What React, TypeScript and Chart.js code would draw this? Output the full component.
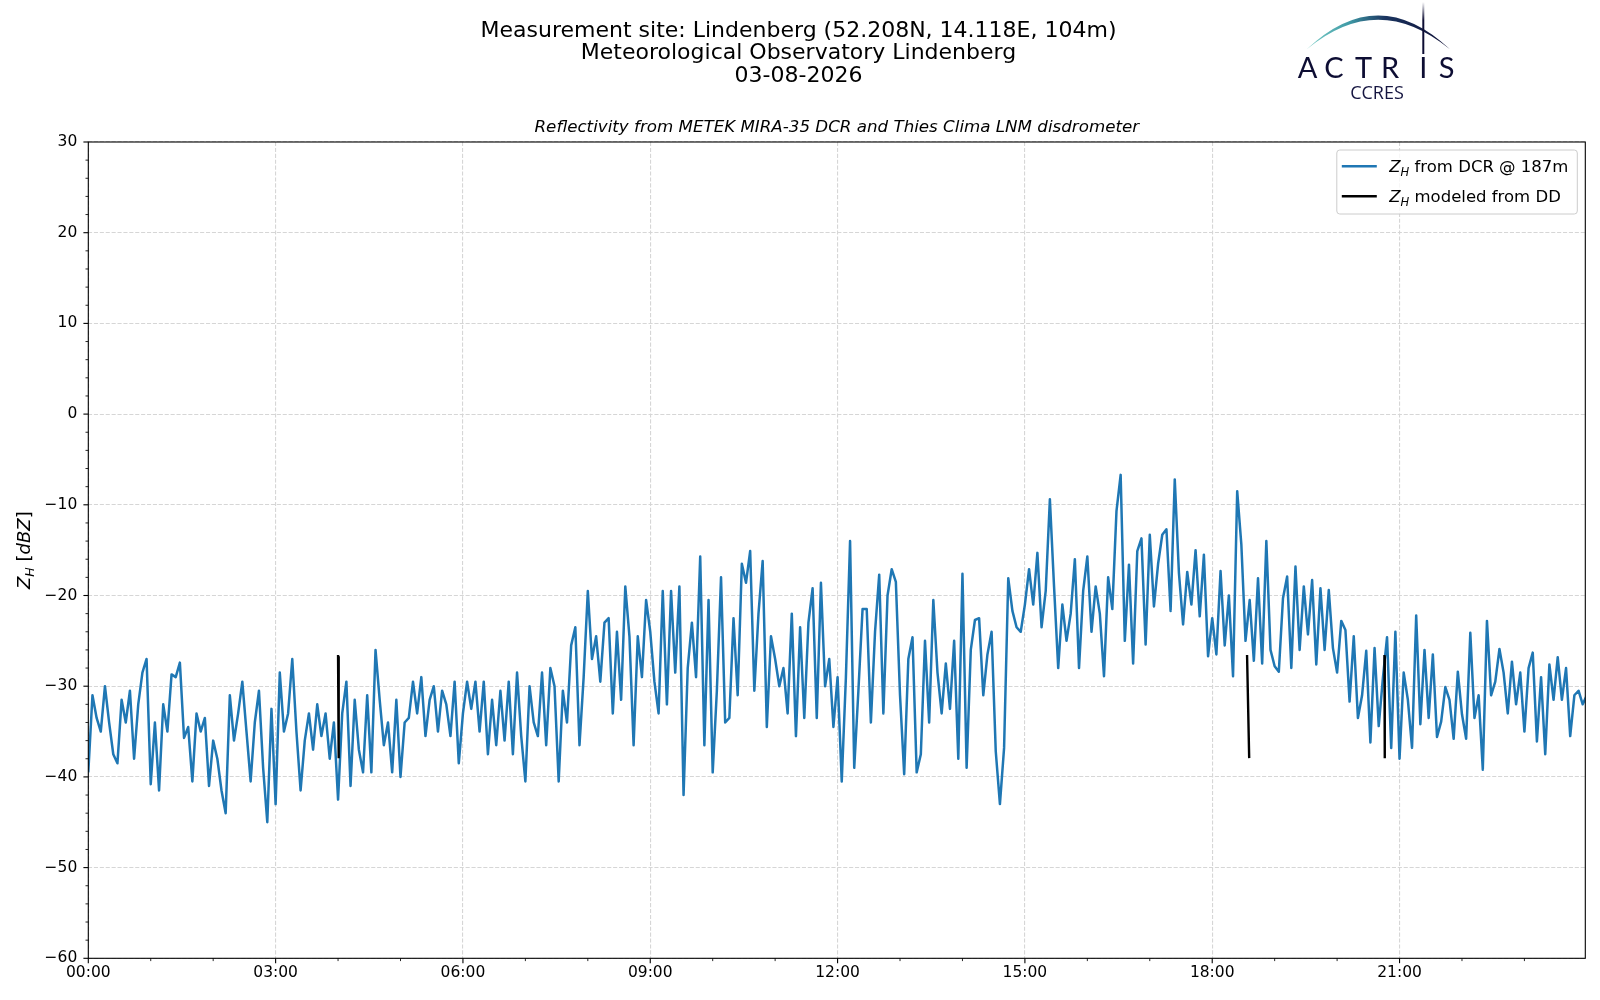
import { useEffect, useRef } from "react";
import Chart from "chart.js/auto";

const TITLE_LINES = [
  "Measurement site: Lindenberg (52.208N, 14.118E, 104m)",
  "Meteorological Observatory Lindenberg",
  "03-08-2026",
];
const SUBTITLE = "Reflectivity from METEK MIRA-35 DCR and Thies Clima LNM disdrometer";

// DCR reflectivity at 187 m, one value every 4 minutes starting 00:00 (one row per hour)
const DCR_STEP_MIN = 4;
const dcrZh = [
  -39.5, -31, -33.5, -35, -30, -34, -37.5, -38.5, -31.5, -34, -30.5, -38, -32, -28.5, -27,
  -40.8, -34, -41.5, -32, -35, -28.7, -29, -27.4, -35.7, -34.5, -40.5, -33, -35, -33.5, -41,
  -36, -38, -41.5, -44, -31, -36, -33, -29.5, -35, -40.5, -34, -30.5, -39, -45, -32.5,
  -43, -28.5, -35, -33, -27, -35, -41.5, -36, -33, -37, -32, -35.5, -33, -38, -34,
  -42.5, -33, -29.5, -41, -31.5, -37, -39.5, -31, -39.5, -26, -31.5, -36.5, -34, -39.5, -31.5,
  -40, -34, -33.5, -29.5, -33, -29, -35.5, -31.5, -30, -35, -30.5, -32, -35.5, -29.5, -38.5,
  -33, -29.5, -32.5, -29.5, -35, -29.5, -37.5, -31.5, -36.5, -30.5, -36, -29.5, -37.5, -28.5, -35.5,
  -40.5, -30, -34, -35.5, -28.5, -36.5, -28, -30, -40.5, -30.5, -34, -25.5, -23.5, -36.5, -29,
  -19.5, -27, -24.5, -29.5, -23, -22.5, -33, -24, -31.5, -19, -24.5, -36.5, -24.5, -29, -20.5,
  -24, -29.5, -33, -19.5, -32, -19.5, -28.5, -19, -42, -28, -23, -29, -15.7, -36.5, -20.5,
  -39.5, -30.5, -18, -34, -33.5, -22.5, -31, -16.5, -18.6, -15.1, -30.5, -22, -16.2, -34.5, -24.5,
  -27, -30, -28, -33, -22, -35.5, -23.5, -33.5, -23, -19.2, -33.5, -18.6, -30, -27, -34.5,
  -29, -40.5, -29, -14, -39, -30.5, -21.5, -21.5, -34, -24, -17.7, -33, -20, -17.1, -18.5,
  -31, -39.7, -27, -24.6, -39.5, -37.5, -25, -34, -20.5, -28.5, -33, -27.5, -32.5, -25, -38,
  -17.6, -39, -26, -22.7, -22.5, -31, -26.5, -24, -37.2, -43, -36.8, -18.1, -21.7, -23.5, -24,
  -21, -17.1, -21, -15.3, -23.5, -19.5, -9.4, -19, -28, -21, -25, -22, -16, -28, -19.5,
  -15.7, -24, -19, -22, -28.9, -18, -21.5, -10.7, -6.7, -25, -16.6, -27.5, -15.1, -13.7, -25.4,
  -13.3, -21.2, -16.5, -13.3, -12.7, -21.7, -7.2, -17.5, -23.2, -17.4, -21, -15, -22.3, -15.5, -26.7,
  -22.5, -26.5, -17.3, -25.5, -20, -28.9, -8.5, -14.4, -25, -20.5, -27.2, -18.1, -27.5, -14, -26,
  -27.8, -28.4, -20.3, -17.9, -28, -16.8, -26, -19, -24.3, -18.3, -27.6, -19.2, -26, -19.4, -25.8,
  -28.5, -22.8, -23.8, -31.7, -24.5, -33.5, -31, -26.1, -36.2, -25.8, -34.4, -29.1, -24.6, -36.8, -24,
  -38, -28.5, -31.5, -36.8, -22.2, -34.2, -26, -33.5, -26.5, -35.6, -33.9, -30.1, -31.5, -35.8, -28.4,
  -33.1, -35.8, -24.1, -33.5, -31, -39.2, -22.8, -31, -29.5, -25.9, -28.5, -33, -27.3, -32, -28.5,
  -35, -28, -26.3, -36.1, -29, -37.5, -27.6, -31.5, -26.8, -31.5, -28, -35.5, -31, -30.5, -32,
  -31,
];

// Zh modeled from the disdrometer: three short segments (minutes after 00:00)
const ddStartMin = [240, 1113.5, 1245.5];
const ddEndMin = [240.6, 1115.5, 1245.8];
const ddStartZh = [-26.7, -26.7, -26.7];
const ddEndZh = [-37.8, -37.8, -37.8];

const xTicks = [0, 180, 360, 540, 720, 900, 1080, 1260];
const xTickLabels = ["00:00", "03:00", "06:00", "09:00", "12:00", "15:00", "18:00", "21:00"];
const yTicks = [-60, -50, -40, -30, -20, -10, 0, 10, 20, 30];
const X_MAX = 1438.5;

const BLUE = "#1f77b4";
const FONT = "'DejaVu Sans', 'Liberation Sans', sans-serif";

type Part = { t: string; it?: boolean; sub?: boolean };

function drawRich(ctx: CanvasRenderingContext2D, parts: Part[], x: number, y: number, size: number, draw = true) {
  let cx = x;
  for (const p of parts) {
    const s = p.sub ? size * 0.7 : size;
    ctx.font = `${p.it ? "italic " : ""}${s}px ${FONT}`;
    if (draw) ctx.fillText(p.t, cx, y + (p.sub ? size * 0.22 : 0));
    cx += ctx.measureText(p.t).width;
  }
  return cx - x;
}

const decor = {
  id: "decor",
  afterDatasetsDraw(chart: any) {
    const { ctx, chartArea: a, scales } = chart;
    ctx.save();
    ctx.strokeStyle = "#000";
    ctx.lineWidth = 1.1;
    ctx.strokeRect(a.left, a.top, a.right - a.left, a.bottom - a.top);

    // major ticks
    for (const v of xTicks) {
      const px = scales.x.getPixelForValue(v);
      ctx.beginPath();
      ctx.moveTo(px, a.bottom);
      ctx.lineTo(px, a.bottom + 4.9);
      ctx.stroke();
    }
    for (const v of yTicks) {
      const py = scales.y.getPixelForValue(v);
      ctx.beginPath();
      ctx.moveTo(a.left, py);
      ctx.lineTo(a.left - 4.9, py);
      ctx.stroke();
    }
    // minor ticks: every hour, every 2 dBZ
    ctx.lineWidth = 0.85;
    for (let m = 60; m < X_MAX; m += 60) {
      if (m % 180 === 0) continue;
      const px = scales.x.getPixelForValue(m);
      ctx.beginPath();
      ctx.moveTo(px, a.bottom);
      ctx.lineTo(px, a.bottom + 2.8);
      ctx.stroke();
    }
    for (let v = -58; v < 30; v += 2) {
      if (v % 10 === 0) continue;
      const py = scales.y.getPixelForValue(v);
      ctx.beginPath();
      ctx.moveTo(a.left, py);
      ctx.lineTo(a.left - 2.8, py);
      ctx.stroke();
    }
    ctx.restore();
  },
  afterDraw(chart: any) {
    const { ctx, chartArea: a } = chart;
    ctx.save();
    ctx.fillStyle = "#000";
    ctx.textBaseline = "alphabetic";

    // titles
    ctx.textAlign = "center";
    ctx.font = `22px ${FONT}`;
    const baselines = [36.5, 59, 81.5];
    TITLE_LINES.forEach((line, i) => ctx.fillText(line, 798.5, baselines[i]));
    ctx.font = `italic 16.7px ${FONT}`;
    ctx.fillText(SUBTITLE, (a.left + a.right) / 2, 131.5);

    // y axis label
    ctx.textAlign = "left";
    const yParts: Part[] = [{ t: "Z", it: true }, { t: "H", it: true, sub: true }, { t: " [" }, { t: "dBZ", it: true }, { t: "]" }];
    ctx.translate(30, (a.top + a.bottom) / 2);
    ctx.rotate(-Math.PI / 2);
    const w = drawRich(ctx, yParts, 0, 0, 18, false);
    drawRich(ctx, yParts, -w / 2, 0, 18);
    ctx.setTransform(1, 0, 0, 1, 0, 0);
    ctx.scale(chart.currentDevicePixelRatio, chart.currentDevicePixelRatio);

    // legend
    const bx = a.right - 248.5;
    const by = a.top + 8;
    ctx.beginPath();
    ctx.roundRect(bx, by, 240.5, 64, 3);
    ctx.fillStyle = "rgba(255,255,255,0.8)";
    ctx.fill();
    ctx.strokeStyle = "#cccccc";
    ctx.lineWidth = 1;
    ctx.stroke();

    const rows = [
      { color: BLUE, parts: [{ t: "Z", it: true }, { t: "H", it: true, sub: true }, { t: " from DCR @ 187m" }] as Part[] },
      { color: "#000", parts: [{ t: "Z", it: true }, { t: "H", it: true, sub: true }, { t: " modeled from DD" }] as Part[] },
    ];
    rows.forEach((r, i) => {
      const cy = by + 16.3 + i * 30;
      ctx.strokeStyle = r.color;
      ctx.lineWidth = 2.4;
      ctx.beginPath();
      ctx.moveTo(bx + 5, cy);
      ctx.lineTo(bx + 40, cy);
      ctx.stroke();
      ctx.fillStyle = "#000";
      drawRich(ctx, r.parts, bx + 52.5, cy + 6, 16.5);
    });
    ctx.restore();
  },
};

export default function App() {
  const canvasRef = useRef<HTMLCanvasElement>(null);

  useEffect(() => {
    document.body.style.margin = "0";
    if (!canvasRef.current) return;

    const dcrPoints = dcrZh.map((v, i) => ({ x: i * DCR_STEP_MIN, y: v }));
    const ddPoints: { x: number; y: number | null }[] = [];
    ddStartMin.forEach((m, i) => {
      ddPoints.push({ x: m, y: ddStartZh[i] });
      ddPoints.push({ x: ddEndMin[i], y: ddEndZh[i] });
      ddPoints.push({ x: ddEndMin[i] + 0.1, y: null });
    });

    const gridStyle = { color: "#d6d6d6", lineWidth: 1.1, drawTicks: false };
    const borderStyle = { display: false, dash: [4.1, 1.8] };
    const tickFont = { family: FONT, size: 15.5 };

    const chart = new Chart(canvasRef.current, {
      type: "line",
      data: {
        datasets: [
          {
            label: "Z_H from DCR @ 187m",
            data: dcrPoints,
            borderColor: BLUE,
            borderWidth: 2.5,
            borderJoinStyle: "round",
            pointRadius: 0,
            order: 2,
          },
          {
            label: "Z_H modeled from DD",
            data: ddPoints as any,
            borderColor: "#000",
            borderWidth: 2.4,
            borderCapStyle: "square",
            pointRadius: 0,
            spanGaps: false,
            order: 1,
          },
        ],
      },
      options: {
        responsive: false,
        animation: false,
        layout: { padding: { top: 142, right: 14.7, left: 0, bottom: 0 } },
        plugins: {
          legend: { display: false },
          tooltip: { enabled: false },
          title: { display: false },
        },
        elements: { line: { tension: 0 } },
        scales: {
          x: {
            type: "linear",
            min: 0,
            max: X_MAX,
            afterBuildTicks: (s: any) => {
              s.ticks = xTicks.map((v) => ({ value: v }));
            },
            afterFit: (s: any) => {
              s.height = 41.7;
            },
            ticks: {
              autoSkip: false,
              maxRotation: 0,
              padding: 5,
              color: "#000",
              font: tickFont,
              callback: (_v: any, i: number) => xTickLabels[i],
            },
            grid: gridStyle,
            border: borderStyle,
          },
          y: {
            min: -60,
            max: 30,
            afterBuildTicks: (s: any) => {
              s.ticks = yTicks.map((v) => ({ value: v }));
            },
            afterFit: (s: any) => {
              s.width = 88.3;
            },
            ticks: {
              padding: 11,
              color: "#000",
              font: tickFont,
              callback: (v: any) => (Number(v) < 0 ? "\u2212" + Math.abs(Number(v)) : String(v)),
            },
            grid: gridStyle,
            border: borderStyle,
          },
        },
      },
      plugins: [decor],
    });
    return () => chart.destroy();
  }, []);

  return (
    <div style={{ position: "relative", width: 1600, height: 1000, background: "#fff" }}>
      <canvas ref={canvasRef} width={1600} height={1000} style={{ display: "block" }} />
      <svg width={1600} height={140} style={{ position: "absolute", left: 0, top: 0, pointerEvents: "none" }}>
        <defs>
          <linearGradient id="arcGrad" gradientUnits="userSpaceOnUse" x1="1306" y1="0" x2="1450" y2="0">
            <stop offset="0" stopColor="#7ccfc8" />
            <stop offset="0.3" stopColor="#3f9aa6" />
            <stop offset="0.55" stopColor="#1b3560" />
            <stop offset="1" stopColor="#0d0d33" />
          </linearGradient>
          <linearGradient id="mastGrad" x1="0" y1="0" x2="0" y2="1">
            <stop offset="0" stopColor="#0d0d33" stopOpacity="0" />
            <stop offset="0.35" stopColor="#0d0d33" stopOpacity="1" />
            <stop offset="1" stopColor="#0d0d33" stopOpacity="1" />
          </linearGradient>
        </defs>
        <path d="M1306.7 49.3 Q1378 -18.5 1450 49.3 Q1378 -10 1306.7 49.3 Z" fill="url(#arcGrad)" />
        <rect x={1422.3} y={2} width={2} height={52} fill="url(#mastGrad)" />
        <text x="1307.5 1334 1363.5 1390 1423.3 1446.5" y={78} textAnchor="middle" fontFamily="Lato, 'Open Sans', sans-serif" fontSize={29} fill="#0d0d33">
          ACTRIS
        </text>
        <text x={1377} y={99} textAnchor="middle" fontFamily="'Open Sans', sans-serif" fontSize={18} fill="#151540">
          CCRES
        </text>
      </svg>
    </div>
  );
}
